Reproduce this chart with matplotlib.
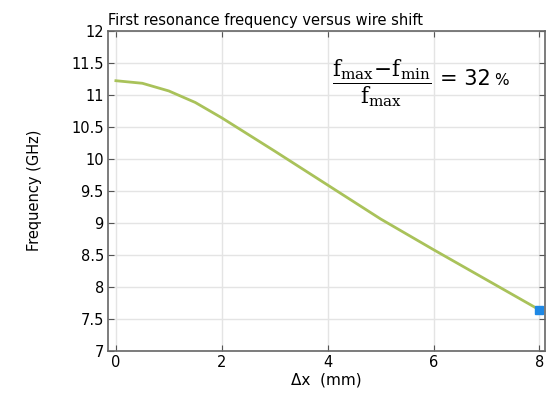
import matplotlib.pyplot as plt

# resonance frequency vs wire shift
shift_mm = [0, 0.5, 1, 1.5, 2, 3, 4, 5, 6, 7, 8]
freq_ghz = [11.22, 11.18, 11.06, 10.88, 10.64, 10.12, 9.59, 9.06, 8.58, 8.11, 7.64]

xticks = [0, 2, 4, 6, 8]
yticks = [7, 7.5, 8, 8.5, 9, 9.5, 10, 10.5, 11, 11.5, 12]
ytick_labels = ['7', '7.5', '8', '8.5', '9', '9.5', '10', '10.5', '11', '11.5', '12']

plt.rcParams['mathtext.fontset'] = 'dejavuserif'

fig = plt.figure(figsize=(5.48, 4), dpi=100)
ax = fig.add_axes([0.197, 0.123, 0.797, 0.8])

ax.plot(shift_mm, freq_ghz, color='#a9c25a', lw=2)
ax.plot(shift_mm[-1], freq_ghz[-1], 's', color='#1e88e5', ms=6, clip_on=False)

ax.set_xlim(-0.15, 8.1)
ax.set_ylim(7, 12)
ax.set_xticks(xticks)
ax.set_yticks(yticks)
ax.set_yticklabels(ytick_labels)
ax.grid(True, color='#e4e4e4', lw=1)
ax.tick_params(direction='in', top=True, right=True, labelsize=10.5, length=4,
               color='#555555', pad=3)
for s in ax.spines.values():
    s.set_color('#666666')
    s.set_linewidth(1.2)

ax.set_title('First resonance frequency versus wire shift', loc='left',
             fontsize=10.5, pad=4)
ax.set_xlabel('Δx  (mm)', fontsize=11, labelpad=2)
ax.set_ylabel('Frequency (GHz)', fontsize=10.5, labelpad=21)

ax.text(4.08, 11.19,
        r'$\dfrac{\mathrm{f}_{\mathrm{max}}\!-\!\mathrm{f}_{\mathrm{min}}}{\mathrm{f}_{\mathrm{max}}}$',
        fontsize=15.5, ha='left', va='center')
ax.text(6.12, 11.24, '= 32', fontsize=15, ha='left', va='center')
ax.text(7.14, 11.22, '%', fontsize=11, ha='left', va='center')

fig.savefig('out.png', dpi=100)
